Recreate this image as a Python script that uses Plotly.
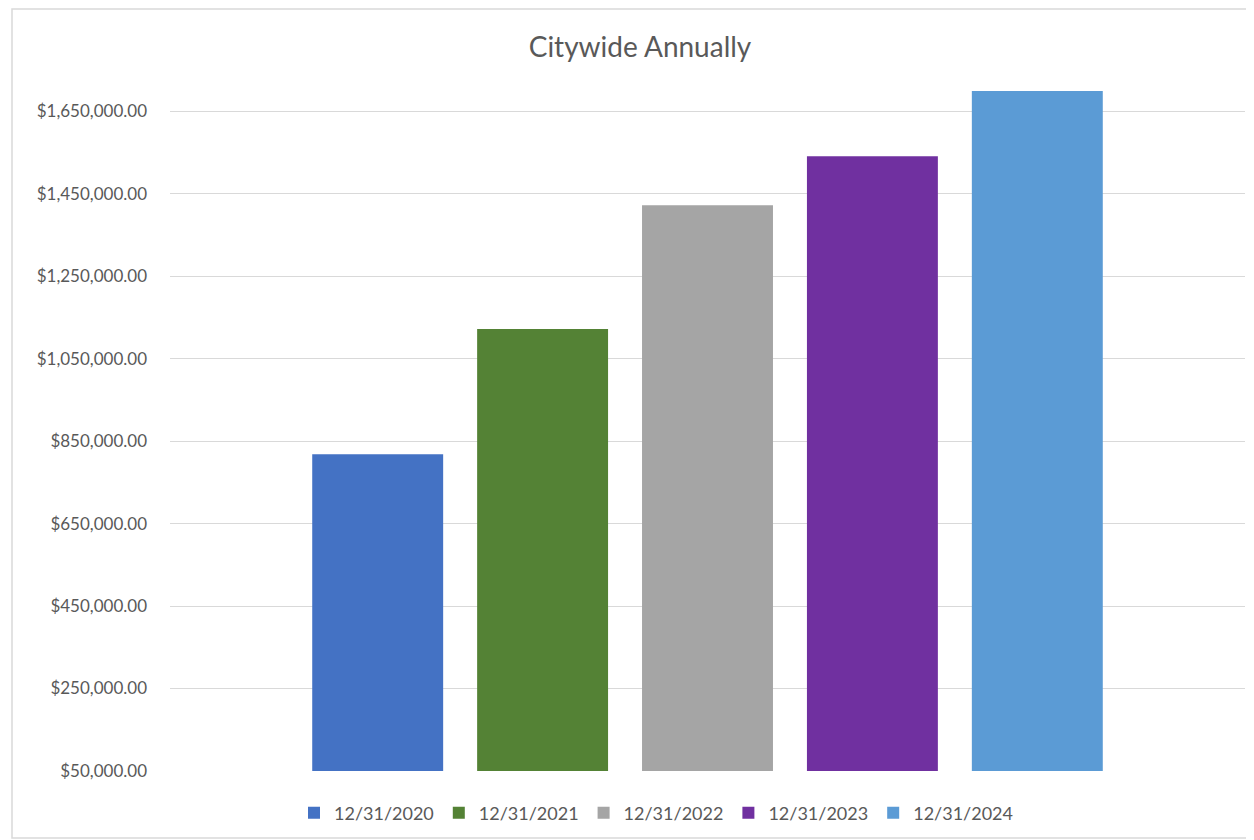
import plotly.graph_objects as go

# Data
series_names = ["12/31/2020", "12/31/2021", "12/31/2022", "12/31/2023", "12/31/2024"]
values = [818000, 1122000, 1422000, 1541000, 1699000]
colors = ["#4472C4", "#548235", "#A5A5A5", "#7030A0", "#5B9BD5"]
category = ["Citywide"]
tick_vals = [50000, 250000, 450000, 650000, 850000, 1050000, 1250000, 1450000, 1650000]

fig = go.Figure()
for name, val, col in zip(series_names, values, colors):
    fig.add_trace(go.Bar(x=category, y=[val], name=name, marker=dict(color=col, line=dict(width=0))))

# page body adds an 8px offset; work in figure pixels = screen pixels - 8
OFF = 8
W, H = 1254 - OFF, 840 - OFF
ml, mr, mt, mb = 170 - OFF, 9, 70 - OFF, 69
pw = W - ml - mr
ph = H - mt - mb

def px2x(px):
    return (px - OFF - ml) / pw

def px2y(py):
    return (H - mb - (py - OFF)) / ph

fig.update_layout(
    width=W, height=H,
    margin=dict(l=ml, r=mr, t=mt, b=mb),
    paper_bgcolor="white", plot_bgcolor="white",
    barmode="group", bargap=0.233, bargroupgap=0.206,
    font=dict(family="Lato, Open Sans, sans-serif", color="#595959", size=17),
    title=dict(text="Citywide Annually", x=(640 - OFF) / W, xanchor="center",
               y=1 - (47 - OFF) / H, yanchor="middle",
               font=dict(size=28, color="#595959")),
    showlegend=True,
    legend=dict(orientation="h", x=px2x(656), xanchor="center", y=px2y(813), yanchor="middle",
                font=dict(size=18, color="#595959"), itemwidth=30, traceorder="normal"),
    shapes=[dict(type="rect", xref="paper", yref="paper", x0=px2x(12), x1=px2x(1250),
                 y0=px2y(838), y1=px2y(9), line=dict(color="#d9d9d9", width=1.5), layer="below")],
)
fig.update_yaxes(range=[50000, 1750000], tickvals=tick_vals, tickformat="$,.2f",
                 showgrid=True, gridcolor="#d9d9d9", gridwidth=1, zeroline=False,
                 ticks="", ticklabelstandoff=22, tickfont=dict(size=17, color="#595959"))
fig.update_xaxes(showticklabels=False, showgrid=False, showline=False, zeroline=False)

fig.write_html("out.html")
